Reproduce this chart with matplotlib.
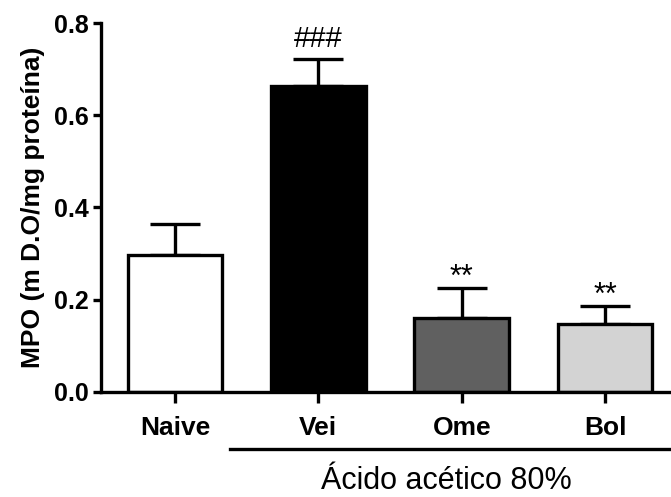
import numpy as np
import matplotlib
matplotlib.use('Agg')
import matplotlib.pyplot as plt

plt.rcParams['font.family'] = ['Liberation Sans', 'DejaVu Sans']

# Data
groups = ['Naive', 'Vei', 'Ome', 'Bol']
means = [0.297, 0.664, 0.160, 0.147]
sems = [0.068, 0.059, 0.066, 0.040]
colors = ['white', 'black', '#606060', '#d3d3d3']
marks = ['', '###', '**', '**']
y_ticks = [0.0, 0.2, 0.4, 0.6, 0.8]

fig = plt.figure(figsize=(6.71, 4.97), dpi=100)
ax = fig.add_axes([0.1505, 0.2113, 0.8495, 0.7424])

x = np.arange(len(groups))
ax.bar(x, means, width=0.66, color=colors, edgecolor='black', linewidth=2.4, zorder=2)
ax.errorbar(x, means, yerr=[np.zeros(len(sems)), sems], fmt='none', ecolor='black',
            elinewidth=2.4, capsize=18, capthick=2.4, zorder=1)

for xi, m, s, t in zip(x, means, sems, marks):
    if t == '###':
        ax.text(xi, m + s + 0.012, t, ha='center', va='bottom', fontsize=21)
    elif t:
        ax.text(xi, m + s - 0.012, t, ha='center', va='bottom', fontsize=22)

ax.set_xlim(-0.516, 3.46)
ax.set_ylim(0, 0.8)
ax.set_yticks(y_ticks)
ax.set_yticklabels([f'{v:.1f}' for v in y_ticks], fontsize=18, fontweight='bold')
ax.set_xticks(x)
ax.set_xticklabels(groups, fontsize=19, fontweight='bold')
ax.tick_params(axis='y', length=6, width=2.4, pad=3)
ax.tick_params(axis='x', length=8, width=2.4, pad=9)
ax.set_ylabel('MPO (m D.O/mg proteína)', fontsize=19, fontweight='bold', labelpad=6)

for side in ['top', 'right']:
    ax.spines[side].set_visible(False)
for side in ['left', 'bottom']:
    ax.spines[side].set_linewidth(2.4)

# group bar under the treated columns
ax.plot([0.383, 3.46], [-0.124, -0.124], color='black', linewidth=2.4, clip_on=False)
ax.text(1.89, -0.192, 'Ácido acético 80%', ha='center', va='center', fontsize=22)

fig.savefig('out.png', dpi=100)
